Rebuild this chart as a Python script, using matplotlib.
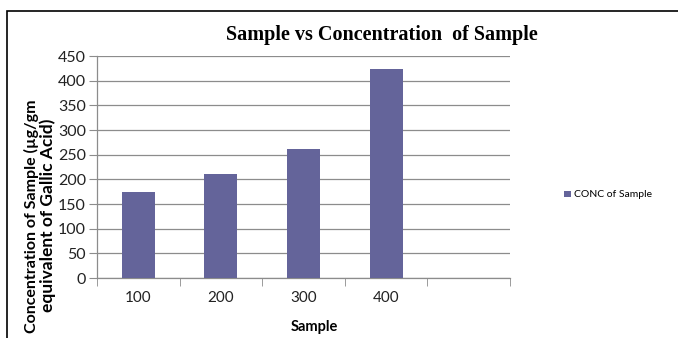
import matplotlib
matplotlib.use("Agg")
from matplotlib import pyplot as plt
from matplotlib.patches import Rectangle

# data
samples = ["100", "200", "300", "400", ""]
conc = [175, 211, 261, 424]
y_ticks = [0, 50, 100, 150, 200, 250, 300, 350, 400, 450]

bar_color = "#64649a"
grid_color = "#8c8c8c"

plt.rcParams["font.family"] = ["Lato", "DejaVu Sans"]

fig = plt.figure(figsize=(6.78, 3.38), dpi=100)
ax = fig.add_axes([97 / 678, 1 - 278 / 338, 413 / 678, 222 / 338])

x = list(range(len(conc)))
ax.bar(x, conc, width=0.4, color=bar_color, label="CONC of Sample", zorder=3)

ax.set_xlim(-0.5, len(samples) - 0.5)
ax.set_ylim(0, 450)
ax.set_yticks(y_ticks)
ax.set_xticks(range(len(samples)))
ax.set_xticklabels(samples, fontsize=11, color="#222222")
ax.set_xticks([i - 0.5 for i in range(len(samples) + 1)], minor=True)
ax.tick_params(axis="x", which="major", length=0, pad=9)
ax.tick_params(axis="x", which="minor", length=6, direction="out", color=grid_color)
ax.tick_params(axis="y", length=6, direction="out", color=grid_color, labelsize=11.5,
               labelcolor="#222222", pad=2)

ax.grid(axis="y", color=grid_color, linewidth=0.9, zorder=0)
for side in ["top", "right"]:
    ax.spines[side].set_visible(False)
for side in ["left", "bottom"]:
    ax.spines[side].set_color(grid_color)
    ax.spines[side].set_linewidth(0.9)

fig.text(382 / 678, 1 - 35 / 338, "Sample vs Concentration  of Sample",
         family="Liberation Serif", fontweight="bold", fontsize=14.5,
         ha="center", va="center")
fig.text(314 / 678, 1 - 327 / 338, "Sample", fontweight="bold", fontsize=10.5,
         ha="center", va="center")
fig.text(31 / 678, 1 - 216 / 338, "Concentration of Sample (µg/gm", fontweight="bold",
         fontsize=11.5, rotation=90, ha="center", va="center")
fig.text(48 / 678, 1 - 215 / 338, "equivalent of Gallic Acid)", fontweight="bold",
         fontsize=12.5, rotation=90, ha="center", va="center")

fig.legend(loc="center left", bbox_to_anchor=(555 / 678, 1 - 195 / 338), frameon=False,
           fontsize=7.5, handlelength=0.6, handleheight=0.6, handletextpad=0.3)

fig.patches.append(Rectangle((7 / 678, -0.1), 1.0, 1 - 11 / 338 + 0.1, fill=False,
                             edgecolor="black", linewidth=1.2, transform=fig.transFigure,
                             figure=fig))

fig.savefig("out.png", dpi=100)
